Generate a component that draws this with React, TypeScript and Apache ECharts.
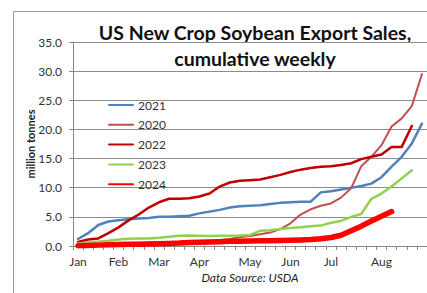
import React, { useEffect, useRef } from "react";
import * as echarts from "echarts";

const weekLabels = [
  "Jan", "", "", "", "Feb", "", "", "", "Mar", "", "", "", "Apr", "", "", "", "",
  "May", "", "", "", "Jun", "", "", "", "Jul", "", "", "", "", "Aug", "", "", "", "",
];
const weeks = weekLabels.map((_, i) => `W${i + 1}`);

const s2021 = [1.2, 2.2, 3.6, 4.2, 4.4, 4.6, 4.7, 4.8, 5.0, 5.0, 5.1, 5.2, 5.6, 5.9, 6.2, 6.6, 6.8, 6.9, 7.0, 7.2, 7.4, 7.5, 7.6, 7.6, 9.2, 9.4, 9.7, 10.0, 10.3, 10.7, 11.8, 13.6, 15.3, 17.6, 21.0];
const s2020 = [0.2, 0.3, 0.4, 0.4, 0.5, 0.5, 0.5, 0.6, 0.6, 0.7, 0.7, 0.8, 0.8, 0.9, 1.0, 1.2, 1.5, 1.7, 2.0, 2.3, 2.9, 3.9, 5.4, 6.3, 6.9, 7.3, 8.3, 9.9, 13.7, 15.3, 17.3, 20.5, 21.9, 24.0, 29.5];
const s2022 = [0.7, 1.1, 1.3, 2.2, 3.2, 4.4, 5.4, 6.6, 7.5, 8.1, 8.1, 8.2, 8.5, 9.0, 10.2, 10.9, 11.2, 11.3, 11.4, 11.8, 12.2, 12.7, 13.1, 13.4, 13.6, 13.7, 13.9, 14.2, 14.9, 15.3, 15.7, 17.0, 17.0, 20.6];
const s2023 = [0.45, 0.6, 0.75, 0.9, 1.1, 1.25, 1.3, 1.3, 1.4, 1.6, 1.75, 1.8, 1.75, 1.7, 1.75, 1.75, 1.8, 1.9, 2.6, 2.7, 2.9, 3.1, 3.2, 3.4, 3.5, 4.0, 4.3, 5.0, 5.5, 8.1, 9.0, 10.2, 11.6, 13.0];
const s2024 = [0.05, 0.1, 0.15, 0.2, 0.25, 0.3, 0.3, 0.35, 0.4, 0.45, 0.5, 0.6, 0.65, 0.7, 0.75, 0.8, 0.8, 0.85, 0.9, 0.9, 0.95, 1.0, 1.05, 1.1, 1.25, 1.45, 1.85, 2.6, 3.4, 4.3, 5.1, 5.9];

const seriesNames = ["2021", "2020", "2022", "2023", "2024"];
const seriesData = [s2021, s2020, s2022, s2023, s2024];
const seriesColors = ["#4F81BD", "#C0504D", "#C00000", "#92D050", "#FF0000"];
const seriesWidths = [2.5, 2, 2.5, 2.5, 5.5];

const titleLines = ["US New Crop Soybean Export Sales,", "cumulative weekly"];
const sourceText = "Data Source: USDA";
const yAxisName = "million tonnes";

const FONT = "Lato, 'Open Sans', sans-serif";

export default function App() {
  const ref = useRef<HTMLDivElement>(null);
  useEffect(() => {
    if (!ref.current) return;
    const chart = echarts.init(ref.current, undefined, { renderer: "svg" });
    chart.setOption({
      animation: false,
      backgroundColor: "#ffffff",
      textStyle: { fontFamily: FONT },
      grid: { left: 73, right: 0, top: 42, bottom: 47, containLabel: false },
      legend: {
        orient: "vertical",
        left: 108,
        top: 99,
        padding: 0,
        itemWidth: 24,
        itemHeight: 14,
        itemGap: 7.8,
        itemStyle: { opacity: 0 },
        textStyle: { fontSize: 12, color: "#333", fontFamily: FONT },
        data: seriesNames,
      },
      xAxis: {
        type: "category",
        data: weeks,
        boundaryGap: true,
        axisLine: { lineStyle: { color: "#868686", width: 1 } },
        axisTick: { show: true, interval: 0, length: 4, lineStyle: { color: "#868686" } },
        axisLabel: {
          interval: 0,
          margin: 9,
          fontSize: 12,
          color: "#333",
          fontFamily: FONT,
          formatter: (_v: string, i: number) => weekLabels[i],
        },
        splitLine: { show: false },
      },
      yAxis: {
        type: "value",
        min: 0,
        max: 35,
        interval: 5,
        name: yAxisName,
        nameLocation: "middle",
        nameRotate: 90,
        nameGap: 37,
        nameMoveOverlap: false,
        nameTextStyle: { fontSize: 11, fontWeight: "bold", color: "#222", fontFamily: FONT },
        axisLine: { show: true, lineStyle: { color: "#868686", width: 1 } },
        axisTick: { show: true, length: 4, lineStyle: { color: "#868686" } },
        axisLabel: {
          margin: 11,
          fontSize: 12,
          color: "#333",
          fontFamily: FONT,
          formatter: (v: number) => v.toFixed(1),
        },
        splitLine: { show: true, lineStyle: { color: "#8c8c8c", width: 1 } },
      },
      series: seriesNames.map((name, k) => ({
        name,
        type: "line",
        data: seriesData[k],
        symbol: "none",
        smooth: false,
        lineStyle: { color: seriesColors[k], width: seriesWidths[k], cap: "round", join: "round" },
        itemStyle: { color: seriesColors[k] },
      })),
      graphic: [
        {
          type: "rect",
          silent: true,
          z: -10,
          shape: { x: 13.5, y: 11.5, width: 500, height: 400 },
          style: { fill: "none", stroke: "#9a9a9a", lineWidth: 1 },
        },
        {
          type: "text",
          x: 255,
          y: 32,
          style: {
            text: titleLines[0],
            textAlign: "center",
            textVerticalAlign: "middle",
            font: `bold 19.5px ${FONT}`,
            fill: "#111",
          },
        },
        {
          type: "text",
          x: 255,
          y: 58,
          style: {
            text: titleLines[1],
            textAlign: "center",
            textVerticalAlign: "middle",
            font: `bold 19.5px ${FONT}`,
            fill: "#111",
          },
        },
        {
          type: "text",
          x: 250,
          y: 277,
          style: {
            text: sourceText,
            textAlign: "center",
            textVerticalAlign: "middle",
            font: `italic 12px ${FONT}`,
            fill: "#222",
          },
        },
      ],
    });
    return () => chart.dispose();
  }, []);
  return (
    <div
      ref={ref}
      style={{ position: "absolute", left: 0, top: 0, width: 427, height: 293 }}
    />
  );
}
